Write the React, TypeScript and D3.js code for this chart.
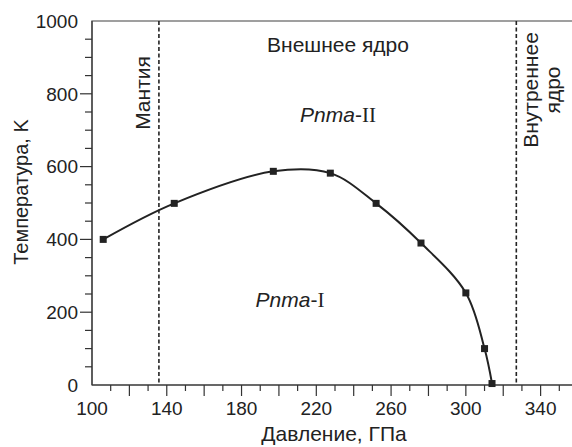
import * as d3 from 'd3'

const pressure = [106, 144, 197, 227.5, 252, 276, 300, 310, 314]
const temperature = [400, 499, 587, 582, 499, 390, 253, 100, 4]
const boundaries = [135.8, 327]
const xLabels = [100, 140, 180, 220, 260, 300, 340]
const yLabels = [0, 200, 400, 600, 800, 1000]

export default function App() {
  const W = 572
  const H = 447
  const x = d3.scaleLinear().domain([100, 360]).range([92, 578])
  const y = d3.scaleLinear().domain([0, 1000]).range([385, 21])
  const pts = pressure.map((p, i) => [p, temperature[i]] as [number, number])
  const line = d3
    .line<[number, number]>()
    .x(d => x(d[0]))
    .y(d => y(d[1]))
    .curve(d3.curveCatmullRom.alpha(0.5))

  const xMinor = d3.range(110, 360, 10)
  const yMinor = d3.range(50, 1000, 50)
  const ink = '#222'
  const font = '"Liberation Sans", Arial, sans-serif'
  const serif = '"Liberation Serif", "Times New Roman", serif'

  return (
    <svg
      width={W}
      height={H}
      style={{ position: 'absolute', left: 0, top: 0, background: '#fff' }}
      fontFamily={font}
    >
      {/* frame */}
      <rect x={x(100)} y={y(1000)} width={x(360) - x(100)} height={y(0) - y(1000)} fill="none" stroke="#777" strokeWidth={1.4} />
      <line x1={x(100)} x2={x(100)} y1={y(0)} y2={y(1000)} stroke="#333" strokeWidth={1.2} />
      <line x1={x(100)} x2={W} y1={y(0)} y2={y(0)} stroke="#333" strokeWidth={1.2} />

      {/* x ticks */}
      {xMinor.map(t => (
        <line key={t} x1={x(t)} x2={x(t)} y1={y(0)} y2={y(0) + (t % 20 === 0 ? 11 : 6)} stroke="#333" strokeWidth={1.2} />
      ))}
      {xLabels.map(t => (
        <text key={t} x={x(t)} y={y(0) + 30} textAnchor="middle" fontSize={19} fill={ink}>{t}</text>
      ))}
      <text x={334} y={441} textAnchor="middle" fontSize={21} fill={ink}>Давление, ГПа</text>

      {/* y ticks */}
      {yMinor.map(t => (
        <line key={t} x1={x(100)} x2={x(100) - (t % 200 === 0 ? 12 : 7)} y1={y(t)} y2={y(t)} stroke="#333" strokeWidth={1.2} />
      ))}
      {yLabels.map(t => (
        <text key={t} x={78} y={y(t)} dy="0.36em" textAnchor="end" fontSize={19} fill={ink}>{t}</text>
      ))}
      <text transform="translate(28,192) rotate(-90)" textAnchor="middle" fontSize={20} fill={ink}>Температура, K</text>

      {/* boundaries */}
      {boundaries.map(b => (
        <line key={b} x1={x(b)} x2={x(b)} y1={y(1000)} y2={y(0)} stroke={ink} strokeWidth={1.6} strokeDasharray="4,2.5" />
      ))}

      {/* curve */}
      <path d={line(pts) ?? ''} fill="none" stroke={ink} strokeWidth={2} />
      {pts.map((d, i) => (
        <rect key={i} x={x(d[0]) - 3.5} y={y(d[1]) - 3.5} width={7} height={7} fill={ink} />
      ))}

      {/* region labels */}
      <text x={338} y={52} textAnchor="middle" fontSize={21} fill={ink}>Внешнее ядро</text>
      <text transform="translate(150,93) rotate(-90)" textAnchor="middle" fontSize={21} fill={ink}>Мантия</text>
      <text transform="translate(538,90) rotate(-90)" textAnchor="middle" fontSize={21} fill={ink}>
        <tspan x={0} y={0}>Внутреннее</tspan>
        <tspan x={0} dy={22}>ядро</tspan>
      </text>
      <text x={338} y={122} textAnchor="middle" fontSize={21} fill={ink}>
        <tspan fontStyle="italic">Pnma</tspan>
        <tspan>-</tspan>
        <tspan fontFamily={serif}>II</tspan>
      </text>
      <text x={290} y={307} textAnchor="middle" fontSize={21} fill={ink}>
        <tspan fontStyle="italic">Pnma</tspan>
        <tspan>-</tspan>
        <tspan fontFamily={serif}>I</tspan>
      </text>
    </svg>
  )
}
